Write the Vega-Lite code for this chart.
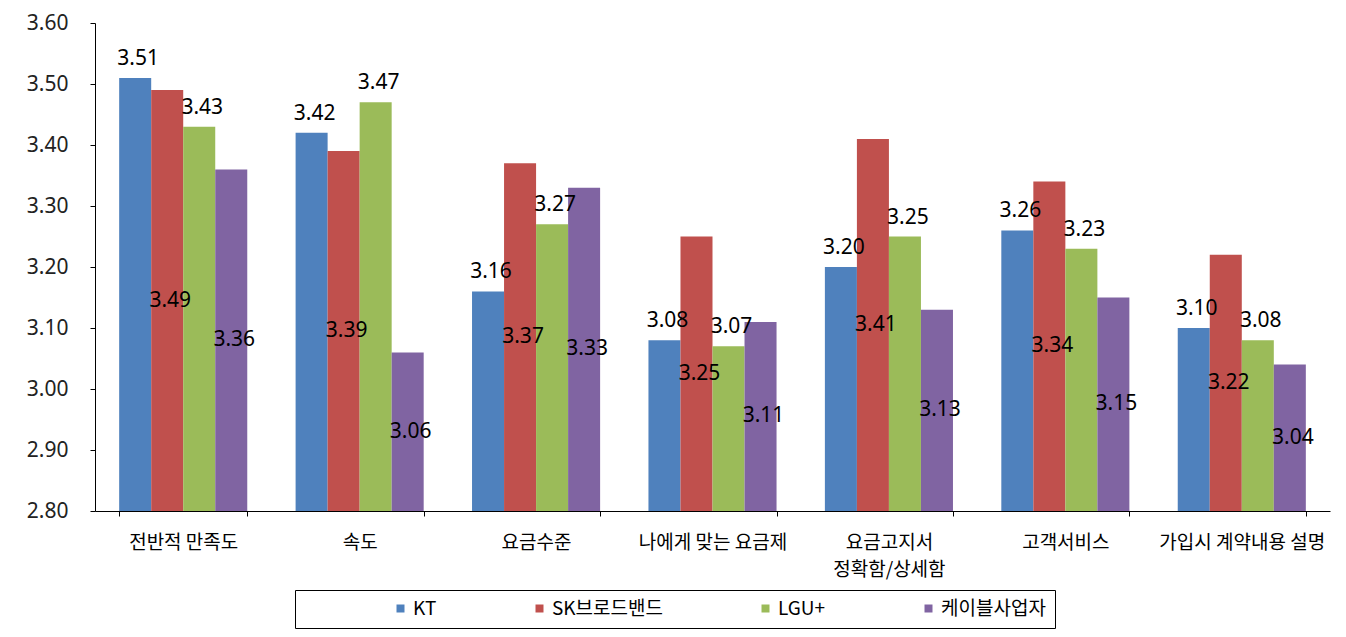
{
  "$schema": "https://vega.github.io/schema/vega-lite/v6.json",
  "autosize": {"type": "none"},
  "padding": {"left": 95, "top": 23, "right": 16, "bottom": 126},
  "width": 1235,
  "height": 488,
  "background": "white",
  "config": {
    "view": {"stroke": null},
    "font": "Noto Sans CJK KR",
    "text": {"font": "Noto Sans CJK KR"}
  },
  "data": {
    "values": [
      {"category": "전반적 만족도", "series": "KT", "value": 3.51},
      {"category": "전반적 만족도", "series": "SK브로드밴드", "value": 3.49},
      {"category": "전반적 만족도", "series": "LGU+", "value": 3.43},
      {"category": "전반적 만족도", "series": "케이블사업자", "value": 3.36},
      {"category": "속도", "series": "KT", "value": 3.42},
      {"category": "속도", "series": "SK브로드밴드", "value": 3.39},
      {"category": "속도", "series": "LGU+", "value": 3.47},
      {"category": "속도", "series": "케이블사업자", "value": 3.06},
      {"category": "요금수준", "series": "KT", "value": 3.16},
      {"category": "요금수준", "series": "SK브로드밴드", "value": 3.37},
      {"category": "요금수준", "series": "LGU+", "value": 3.27},
      {"category": "요금수준", "series": "케이블사업자", "value": 3.33},
      {"category": "나에게 맞는 요금제", "series": "KT", "value": 3.08},
      {"category": "나에게 맞는 요금제", "series": "SK브로드밴드", "value": 3.25},
      {"category": "나에게 맞는 요금제", "series": "LGU+", "value": 3.07},
      {"category": "나에게 맞는 요금제", "series": "케이블사업자", "value": 3.11},
      {"category": "요금고지서|정확함/상세함", "series": "KT", "value": 3.20},
      {"category": "요금고지서|정확함/상세함", "series": "SK브로드밴드", "value": 3.41},
      {"category": "요금고지서|정확함/상세함", "series": "LGU+", "value": 3.25},
      {"category": "요금고지서|정확함/상세함", "series": "케이블사업자", "value": 3.13},
      {"category": "고객서비스", "series": "KT", "value": 3.26},
      {"category": "고객서비스", "series": "SK브로드밴드", "value": 3.34},
      {"category": "고객서비스", "series": "LGU+", "value": 3.23},
      {"category": "고객서비스", "series": "케이블사업자", "value": 3.15},
      {"category": "가입시 계약내용 설명", "series": "KT", "value": 3.10},
      {"category": "가입시 계약내용 설명", "series": "SK브로드밴드", "value": 3.22},
      {"category": "가입시 계약내용 설명", "series": "LGU+", "value": 3.08},
      {"category": "가입시 계약내용 설명", "series": "케이블사업자", "value": 3.04}
    ]
  },
  "encoding": {
    "x": {
      "field": "category",
      "type": "nominal",
      "sort": null,
      "scale": {"paddingInner": 0.274, "paddingOuter": 0.137},
      "axis": {
        "title": null,
        "labelAngle": 0,
        "tickBand": "extent",
        "domainColor": "black",
        "tickColor": "black",
        "tickSize": 5,
        "labelFontSize": 19,
        "labelColor": "black",
        "labelPadding": 17,
        "labelLineHeight": 27,
        "labelExpr": "split(datum.label, '|')",
        "labelLimit": 300
      }
    },
    "xOffset": {"field": "series", "type": "nominal", "sort": ["KT", "SK브로드밴드", "LGU+", "케이블사업자"], "scale": {"paddingInner": 0, "paddingOuter": 0}},
    "y": {
      "field": "value",
      "type": "quantitative",
      "scale": {"domain": [2.8, 3.6], "zero": false, "nice": false},
      "axis": {
        "title": null,
        "grid": false,
        "values": [2.8, 2.9, 3.0, 3.1, 3.2, 3.3, 3.4, 3.5, 3.6],
        "format": ".2f",
        "domainColor": "black",
        "tickColor": "black",
        "tickSize": 5,
        "labelFontSize": 21,
        "labelColor": "#222222",
        "labelPadding": 22,
        "labelFont": "Noto Sans"
      }
    }
  },
  "layer": [
    {
      "mark": {"type": "bar"},
      "encoding": {
        "y2": {"datum": 2.8},
        "color": {
          "field": "series",
          "type": "nominal",
          "sort": ["KT", "SK브로드밴드", "LGU+", "케이블사업자"],
          "scale": {"domain": ["KT", "SK브로드밴드", "LGU+", "케이블사업자"], "range": ["#4F81BD", "#C0504D", "#9BBB59", "#8064A2"]},
          "legend": {
            "title": " ",
            "titleOrient": "left",
            "titlePadding": 87,
            "titleFontSize": 10,
            "orient": "none",
            "legendX": 200,
            "legendY": 567,
            "direction": "horizontal",
            "columns": 4,
            "gridAlign": "none",
            "columnPadding": 93,
            "symbolType": "square",
            "symbolSize": 64,
            "symbolStrokeWidth": 0,
            "labelFontSize": 19,
            "labelColor": "black",
            "labelOffset": 3,
            "labelLimit": 300,
            "labelExpr": "datum.label == '케이블사업자' ? datum.label + '\u00a0\u00a0\u00a0\u00a0\u00a0\u00a0\u00a0\u00a0\u00a0\u00a0\u00a0\u00a0\u00a0\u00a0\u00a0\u00a0' : datum.label",
            "strokeColor": "black",
            "padding": 9
          }
        }
      }
    },
    {
      "transform": [{"filter": "datum.series == 'KT' || datum.series == 'LGU+'"}],
      "mark": {"type": "text", "baseline": "bottom", "dy": -9, "dx": 3, "fontSize": 21, "color": "black", "font": "Noto Sans"},
      "encoding": {"text": {"field": "value", "type": "quantitative", "format": ".2f"}}
    },
    {
      "transform": [
        {"filter": "datum.series == 'SK브로드밴드' || datum.series == '케이블사업자'"},
        {"calculate": "(datum.value + 2.8) / 2", "as": "labelPos"}
      ],
      "mark": {"type": "text", "baseline": "middle", "dx": 3, "fontSize": 21, "color": "black", "font": "Noto Sans"},
      "encoding": {
        "text": {"field": "value", "type": "quantitative", "format": ".2f"},
        "y": {"field": "labelPos", "type": "quantitative"}
      }
    }
  ]
}
